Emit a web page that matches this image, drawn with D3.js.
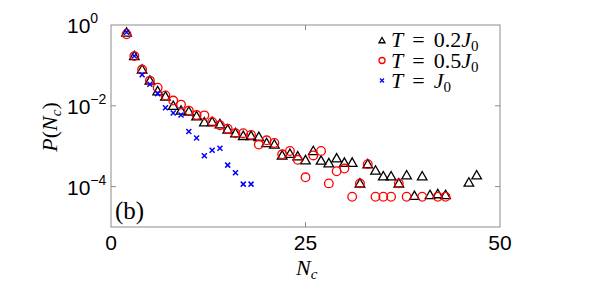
<!DOCTYPE html>
<html>
<head>
<meta charset="utf-8">
<script src="https://cdn.jsdelivr.net/npm/d3@7"></script>
<style>
  body { margin: 0; background: #fff; }
  svg { display: block; }
</style>
</head>
<body>
<script>
// T = 0.2 J0 (black triangles)
var nTri = [2, 3, 4, 5, 6, 7, 8, 9, 10, 11, 12, 13, 14, 15, 16, 17, 18, 19, 20, 21, 22, 23, 24, 25, 26, 27, 28, 29, 30,
  31, 32, 33, 34, 35, 36, 37, 38, 39, 40, 41, 42, 43, 46, 47];
var pTri = [0.65, 0.17, 0.079, 0.042, 0.023, 0.017, 0.010, 0.0076, 0.0072, 0.0055, 0.0039, 0.0040, 0.0035, 0.0026,
  0.0021, 0.0018, 0.0018, 0.0017, 0.0012, 0.0011, 5.9e-4, 6.5e-4, 5.6e-4, 4.5e-4, 7.6e-4, 4.4e-4, 3.8e-4, 5.0e-4,
  3.9e-4, 3.9e-4, 1.2e-4, 3.6e-4, 2.5e-4, 1.8e-4, 1.8e-4, 1.2e-4, 1.9e-4, 5.9e-5, 1.8e-4, 6.2e-5, 6.5e-5, 6.2e-5,
  1.26e-4, 1.9e-4];

// T = 0.5 J0 (red circles)
var nCirc = [2, 3, 4, 5, 6, 7, 8, 9, 10, 11, 12, 13, 14, 15, 16, 17, 18, 19, 20, 21, 22, 23, 24, 25, 26, 27, 28, 29, 30,
  31, 32, 33, 34, 35, 36, 37, 38, 40, 42, 43];
var pCirc = [0.59, 0.17, 0.079, 0.042, 0.028, 0.018, 0.0135, 0.0107, 0.0076, 0.0059, 0.0058, 0.0040, 0.0033, 0.0027,
  0.0021, 0.0021, 0.0019, 0.0011, 0.0014, 0.0012, 6.3e-4, 7.6e-4, 4.6e-4, 1.7e-4, 5.9e-4, 7.6e-4, 1.2e-4, 2.4e-4,
  2.8e-4, 5.6e-5, 1.2e-4, 3.6e-4, 5.6e-5, 5.6e-5, 5.6e-5, 1.2e-4, 5.6e-5, 5.6e-5, 5.6e-5, 5.6e-5];

// T = J0 (blue crosses)
var nX = [2, 3, 4, 5, 6, 7, 8, 9, 10, 11, 12, 13, 14, 15, 16, 17, 18];
var pX = [0.66, 0.17, 0.059, 0.034, 0.020, 0.0089, 0.0066, 0.0059, 0.0023, 0.0016, 5.8e-4, 7.9e-4, 8.9e-4, 3.4e-4,
  2.2e-4, 1.15e-4, 1.15e-4];

var xTicks = [0, 25, 50];
var yTicks = [1, 1e-2, 1e-4];
var yTickExp = ["0", "\u22122", "\u22124"];
var legendLabels = ["0.2", "0.5", ""];

var w = 598, h = 283;
var mLeft = 111, mRight = 500, mTop = 25, mBottom = 227;
var gray = "#8c8c8c";

var svg = d3.select("body").append("svg")
  .attr("width", w)
  .attr("height", h);

var x = d3.scaleLinear().domain([0, 50]).range([mLeft, mRight]);
var y = d3.scaleLog().domain([1e-5, 1]).range([mBottom, mTop]);

// frame
svg.append("rect")
  .attr("x", mLeft).attr("y", mTop)
  .attr("width", mRight - mLeft).attr("height", mBottom - mTop)
  .attr("fill", "none").attr("stroke", gray).attr("stroke-width", 1);

// ticks (inward, both sides)
svg.selectAll("line.xt")
  .data(xTicks.slice(1, 2))
  .enter().append("line")
  .attr("x1", function(d) { return x(d); }).attr("x2", function(d) { return x(d); })
  .attr("y1", mBottom).attr("y2", mBottom - 5)
  .attr("stroke", gray);
svg.selectAll("line.xt2")
  .data(xTicks.slice(1, 2))
  .enter().append("line")
  .attr("x1", function(d) { return x(d); }).attr("x2", function(d) { return x(d); })
  .attr("y1", mTop).attr("y2", mTop + 5)
  .attr("stroke", gray);
svg.selectAll("line.yt")
  .data(yTicks.slice(1))
  .enter().append("line")
  .attr("x1", mLeft).attr("x2", mLeft + 5)
  .attr("y1", function(d) { return y(d); }).attr("y2", function(d) { return y(d); })
  .attr("stroke", gray);
svg.selectAll("line.yt2")
  .data(yTicks.slice(1))
  .enter().append("line")
  .attr("x1", mRight).attr("x2", mRight - 5)
  .attr("y1", function(d) { return y(d); }).attr("y2", function(d) { return y(d); })
  .attr("stroke", gray);

// tick labels
svg.selectAll("text.xl")
  .data(xTicks)
  .enter().append("text")
  .attr("x", function(d) { return x(d); })
  .attr("y", mBottom + 23)
  .attr("text-anchor", "middle")
  .attr("font-family", "Liberation Sans, Arial, sans-serif")
  .attr("font-size", 21)
  .text(function(d) { return d; });

var yl = svg.selectAll("text.yl")
  .data(yTicks)
  .enter().append("text")
  .attr("x", 67)
  .attr("y", function(d) { return y(d) + 8; })
  .attr("font-family", "Liberation Sans, Arial, sans-serif")
  .attr("font-size", 21);
yl.append("tspan").text("10");
yl.append("tspan")
  .attr("dy", -10)
  .attr("font-size", 14)
  .text(function(d, i) { return yTickExp[i]; });

// axis titles
var xt = svg.append("text")
  .attr("x", 296).attr("y", 275)
  .attr("font-family", "Liberation Serif, serif")
  .attr("font-size", 22);
xt.append("tspan").attr("font-style", "italic").text("N");
xt.append("tspan").attr("font-style", "italic").attr("font-size", 15).attr("dy", 4).text("c");

var ytl = svg.append("text")
  .attr("transform", "translate(57,127) rotate(-90)")
  .attr("text-anchor", "middle")
  .attr("font-family", "Liberation Serif, serif")
  .attr("font-size", 22);
ytl.append("tspan").attr("font-style", "italic").text("P");
ytl.append("tspan").text("(");
ytl.append("tspan").attr("font-style", "italic").text("N");
ytl.append("tspan").attr("font-style", "italic").attr("font-size", 15).attr("dy", 4).text("c");
ytl.append("tspan").attr("dy", -4).text(")");

// panel label
svg.append("text")
  .attr("x", 115).attr("y", 219)
  .attr("font-family", "Liberation Serif, serif")
  .attr("font-size", 25)
  .text("(b)");

// markers
function triPath(cx, cy, s) {
  return "M" + cx + "," + (cy - s) + "L" + (cx + s) + "," + (cy + s * 0.75) + "L" + (cx - s) + "," + (cy + s * 0.75) + "Z";
}

svg.selectAll("path.tri")
  .data(nTri)
  .enter().append("path")
  .attr("d", function(d, i) { return triPath(x(d), y(pTri[i]), 4.8); })
  .attr("fill", "none").attr("stroke", "#000").attr("stroke-width", 1.3);

svg.selectAll("circle.circ")
  .data(nCirc)
  .enter().append("circle")
  .attr("cx", function(d) { return x(d); })
  .attr("cy", function(d, i) { return y(pCirc[i]); })
  .attr("r", 4.3)
  .attr("fill", "none").attr("stroke", "#ff0000").attr("stroke-width", 1.3);

function crossPath(cx, cy, s) {
  return "M" + (cx - s) + "," + (cy - s) + "L" + (cx + s) + "," + (cy + s) +
    "M" + (cx - s) + "," + (cy + s) + "L" + (cx + s) + "," + (cy - s);
}
svg.selectAll("path.xm")
  .data(nX)
  .enter().append("path")
  .attr("d", function(d, i) { return crossPath(x(d), y(pX[i]), 2.5); })
  .attr("fill", "none").attr("stroke", "#0000ff").attr("stroke-width", 1.5);

// legend
var lx = 382, ly = [40, 60.5, 80.5];
svg.append("path").attr("d", triPath(lx, ly[0] + 0.5, 3)).attr("fill", "none").attr("stroke", "#000").attr("stroke-width", 1.3);
svg.append("circle").attr("cx", lx).attr("cy", ly[1]).attr("r", 3).attr("fill", "none").attr("stroke", "#ff0000").attr("stroke-width", 1.3);
svg.append("path").attr("d", crossPath(lx, ly[2], 2)).attr("fill", "none").attr("stroke", "#0000ff").attr("stroke-width", 1.3);

legendLabels.forEach(function(lab, i) {
  var t = svg.append("text")
    .attr("x", 391).attr("y", ly[i] + 7)
    .attr("font-family", "Liberation Serif, serif")
    .attr("font-size", 22);
  t.append("tspan").attr("font-style", "italic").text("T");
  t.append("tspan").attr("dx", 9).text("=");
  if (lab) t.append("tspan").attr("dx", 9).text(lab);
  t.append("tspan").attr("dx", lab ? 0 : 9).attr("font-style", "italic").text("J");
  t.append("tspan").attr("font-size", 15).attr("dy", 4).text("0");
});
</script>
</body>
</html>
